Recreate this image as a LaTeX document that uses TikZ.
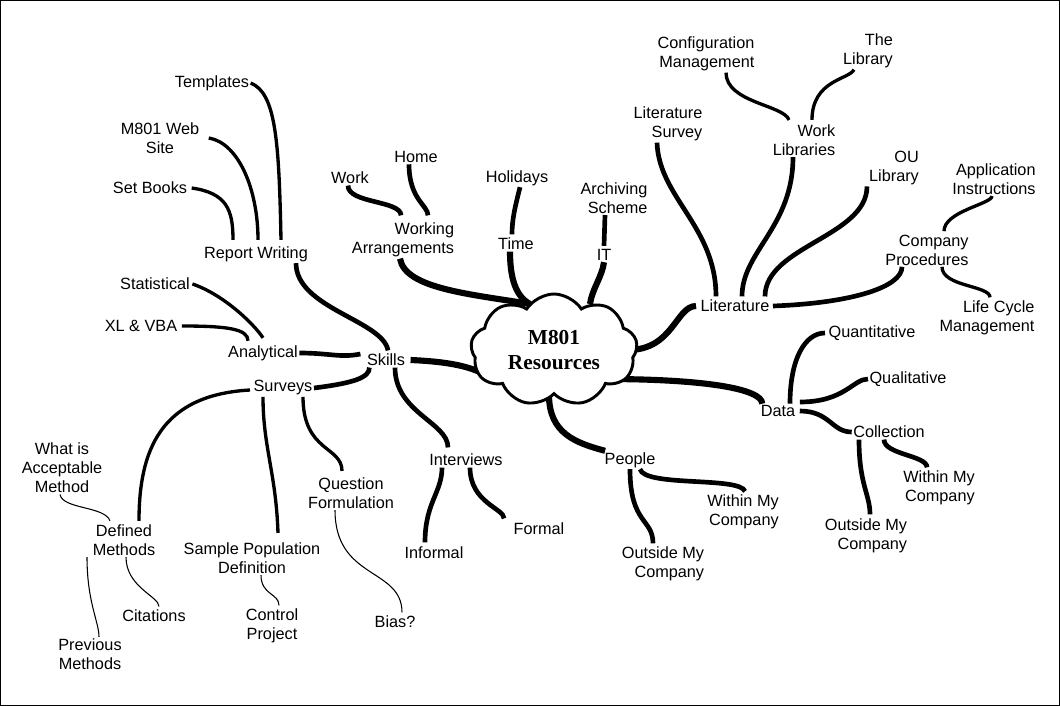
\documentclass[tikz,border=0pt]{standalone}
\usepackage{fontspec}
\setmainfont{Liberation Sans}
\newfontfamily\hubfont{Liberation Serif}
\usetikzlibrary{calc,shapes.symbols,backgrounds}

\tikzset{
  lbl/.style={inner sep=1pt, align=center, font=\fontsize{12.2}{14.2}\selectfont},
  rlbl/.style={lbl, align=right},
  hub/.style={cloud, cloud puffs=9, cloud puff arc=115, aspect=1.5, draw,
    line width=2.2pt, fill=white, minimum width=125pt, minimum height=84pt,
    inner sep=0pt, align=center, font=\hubfont\bfseries\fontsize{16}{18.5}\selectfont},
  trunk/.style={line width=4.6pt},
  branch/.style={line width=3.5pt},
  twig/.style={line width=2.5pt},
  hair/.style={line width=0.8pt},
}

\begin{document}
\begin{tikzpicture}[x=0.75pt,y=-0.75pt]
  \useasboundingbox (0,0) rectangle (1060,706);
  \draw[line width=0.75pt] (0.5,0.5) rectangle (1059.5,705.5);

  % centre
  \node[hub] (hub) at (554,350) {M801\\Resources};

  % skills side
  \node[lbl] (skills) at (386,360) {Skills};
  \node[lbl] (rw) at (256,254) {Report Writing};
  \node[lbl] (tmpl) at (212,83) {Templates};
  \node[lbl] (web) at (160,138) {M801 Web\\Site};
  \node[lbl] (books) at (150,188) {Set Books};
  \node[lbl] (anal) at (263,353) {Analytical};
  \node[lbl] (stat) at (155,284) {Statistical};
  \node[lbl] (xl) at (141,326) {XL \& VBA};
  \node[lbl] (surv) at (283,388) {Surveys};
  \node[lbl] (accept) at (62,468) {What is\\Acceptable\\Method};
  \node[lbl] (defm) at (124,540) {Defined\\Methods};
  \node[lbl] (prev) at (90,654) {Previous\\Methods};
  \node[lbl] (cite) at (154,616) {Citations};
  \node[lbl] (sample) at (252,558) {Sample Population\\Definition};
  \node[lbl] (ctrl) at (272,626) {Control\\Project};
  \node[lbl] (quest) at (351,493) {Question\\Formulation};
  \node[lbl] (bias) at (395,622) {Bias?};
  \node[lbl] (intv) at (466,460) {Interviews};
  \node[lbl] (infml) at (434,553) {Informal};
  \node[lbl] (fml) at (539,529) {Formal};

  % top
  \node[rlbl] (warr) at (403,240) {Working\\Arrangements};
  \node[lbl] (work) at (350,178) {Work};
  \node[lbl] (home) at (416,157) {Home};
  \node[lbl] (time) at (516,244) {Time};
  \node[lbl] (hol) at (517,178) {Holidays};
  \node[lbl] (it) at (604,255) {IT};
  \node[rlbl] (arch) at (614,198) {Archiving\\Scheme};

  % literature
  \node[lbl] (lit) at (735,306) {Literature};
  \node[rlbl] (lsurv) at (668,124) {Literature\\Survey};
  \node[rlbl] (wlib) at (804,140) {Work\\Libraries};
  \node[rlbl] (conf) at (706,54) {Configuration\\Management};
  \node[rlbl] (thelib) at (868,51) {The\\Library};
  \node[rlbl] (oulib) at (894,168) {OU\\Library};
  \node[rlbl] (proc) at (927,250) {Company\\Procedures};
  \node[rlbl] (app) at (994,179) {Application\\Instructions};
  \node[rlbl] (life) at (987,318) {Life Cycle\\Management};

  % data and people
  \node[lbl] (data) at (778,411) {Data};
  \node[lbl] (quant) at (872,333) {Quantitative};
  \node[lbl] (qual) at (908,379) {Qualitative};
  \node[lbl] (coll) at (889,432) {Collection};
  \node[rlbl] (din) at (939,488) {Within My\\Company};
  \node[rlbl] (dout) at (866,536) {Outside My\\Company};
  \node[lbl] (ppl) at (630,460) {People};
  \node[rlbl] (pin) at (743,512) {Within My\\Company};
  \node[rlbl] (pout) at (663,564) {Outside My\\Company};

  \begin{scope}[on background layer]
    % main branches
    \draw[trunk] ($(skills.east)+(4,0)$) .. controls +(45,2) and +(-15,-8) .. ($(hub)+(-66,26)$);
    \draw[trunk] ($(warr.south)+(-3,0)$) .. controls +(5,30) and +(-60,-10) .. ($(hub)+(-24,-46)$);
    \draw[trunk] ($(time.south)+(-6,0)$) .. controls +(0,25) and +(-15,-8) .. ($(hub)+(-24,-46)$);
    \draw[trunk] (it.south) .. controls +(-2,15) and +(2,-15) .. ($(hub)+(36,-46)$);
    \draw[trunk] ($(lit.west)+(-3,0)$) .. controls +(-20,0) and +(45,0) .. ($(hub)+(74,0)$);
    \draw[trunk] ($(hub)+(50,29)$) .. controls +(100,0) and +(0,-15) .. ($(data.north west)+(3,0)$);
    \draw[trunk] ($(hub)+(-5,45)$) .. controls +(0,38) and +(-30,-8) .. ($(ppl.north west)+(2,0)$);

    % skills
    \draw[branch] ($(rw.south)+(40,0)$) .. controls +(0,45) and +(-5,-30) .. ($(skills.north)+(2,-2)$);
    \draw[branch] (anal.east) .. controls +(30,0) and +(-20,4) .. ($(skills.west)+(-5,-6)$);
    \draw[branch] (surv.east) .. controls +(40,-5) and +(0,10) .. ($(skills.south west)+(4,0)$);
    \draw[branch] ($(skills.south)+(9,0)$) .. controls +(0,45) and +(0,-25) .. ($(intv.north)+(-18,-5)$);
    \draw[twig] (tmpl.east) .. controls +(25,10) and +(-2,-100) .. ($(rw.north)+(25,-5)$);
    \draw[twig] ($(web.east)+(8,0)$) .. controls +(30,5) and +(0,-50) .. ($(rw.north)+(2,-5)$);
    \draw[twig] ($(books.east)+(3,0)$) .. controls +(35,5) and +(0,-30) .. ($(rw.north)+(-23,-5)$);
    \draw[twig] ($(stat.east)+(1,0)$) .. controls +(30,10) and +(-10,-15) .. ($(anal.north)+(0,-6)$);
    \draw[twig] ($(xl.east)+(3,0)$) .. controls +(45,0) and +(0,-12) .. ($(anal.north)+(-15,-3)$);
    \draw[twig] ($(surv.west)+(-2,2)$) .. controls +(-90,5) and +(0,-70) .. ($(defm.north)+(15,-2)$);
    \draw[twig] ($(surv.south)+(-20,0)$) .. controls +(0,50) and +(-2,-60) .. ($(sample.north)+(26,-8)$);
    \draw[twig] ($(surv.south)+(20,0)$) .. controls +(0,55) and +(0,-25) .. ($(quest.north)+(-9,-5)$);
    \draw[hair] ($(accept.south)+(-2,0)$) .. controls +(3,15) and +(-5,-15) .. ($(defm.north)+(-14,-2)$);
    \draw[hair] ($(defm.south)+(-37,0)$) .. controls +(0,45) and +(0,-15) .. ($(prev.north)+(9,0)$);
    \draw[hair] ($(defm.south)+(2,0)$) .. controls +(0,30) and +(0,-10) .. ($(cite.north)+(5,-2)$);
    \draw[hair] ($(sample.south)+(9,0)$) .. controls +(0,20) and +(0,-12) .. ($(ctrl.north)+(7,-2)$);
    \draw[hair] ($(quest.south)+(-16,0)$) .. controls +(0,70) and +(0,-45) .. ($(bias.north)+(7,-2)$);
    \draw[branch] ($(intv.south)+(-24,0)$) .. controls +(0,25) and +(0,-40) .. ($(infml.north)+(-9,-3)$);
    \draw[branch] ($(intv.south)+(4,0)$) .. controls +(0,35) and +(0,-10) .. ($(fml.north west)+(-8,-3)$);

    % top
    \draw[branch] ($(work.south)+(-2,0)$) .. controls +(0,18) and +(0,-15) .. ($(warr.north)+(-2,-6)$);
    \draw[branch] ($(home.south)+(-7,0)$) .. controls +(0,35) and +(0,-10) .. ($(warr.north)+(25,-6)$);
    \draw[branch] ($(hol.south)+(3,0)$) .. controls +(-5,20) and +(0,-15) .. ($(time.north)+(-4,-2)$);
    \draw[branch] ($(arch.south)+(-9,0)$) -- ($(it.north)+(0,-2)$);

    % literature
    \draw[branch] ($(lsurv.south)+(-11,0)$) .. controls +(2,55) and +(0,-70) .. ($(lit.north)+(-19,-2)$);
    \draw[branch] ($(wlib.south)+(-11,0)$) .. controls +(0,70) and +(0,-45) .. ($(lit.north)+(7,-2)$);
    \draw[branch] ($(oulib.south)+(-27,0)$) .. controls +(0,50) and +(0,-50) .. ($(lit.north)+(30,-2)$);
    \draw[branch] ($(lit.east)+(2,0)$) .. controls +(80,-3) and +(0,20) .. ($(proc.south)+(-25,0)$);
    \draw[twig] ($(conf.south)+(20,0)$) .. controls +(0,30) and +(-5,-15) .. ($(wlib.north)+(-15,-3)$);
    \draw[twig] ($(wlib.north)+(8,-3)$) .. controls +(0,-40) and +(-5,10) .. ($(thelib.south)+(-14,0)$);
    \draw[twig] ($(proc.north)+(17,-2)$) .. controls +(0,-20) and +(0,8) .. ($(app.south)+(-2,0)$);
    \draw[twig] ($(proc.south)+(15,0)$) .. controls +(0,20) and +(0,-12) .. ($(life.north)+(3,-2)$);

    % data and people
    \draw[branch] ($(data.north)+(12,0)$) .. controls +(0,-45) and +(-20,0) .. ($(quant.west)+(-2,0)$);
    \draw[branch] ($(data.east)+(3,-9)$) .. controls +(45,0) and +(-15,0) .. (qual.west);
    \draw[branch] ($(data.east)+(3,0)$) .. controls +(30,0) and +(-20,0) .. (coll.west);
    \draw[branch] ($(coll.south)+(-30,0)$) .. controls +(0,45) and +(0,-20) .. ($(dout.north)+(4,-3)$);
    \draw[branch] ($(coll.south)+(-5,0)$) .. controls +(0,15) and +(0,-12) .. ($(din.north)+(-12,-2)$);
    \draw[branch] (ppl.south) .. controls +(0,55) and +(0,-25) .. ($(pout.north)+(-10,-2)$);
    \draw[branch] ($(ppl.south)+(10,0)$) .. controls +(5,18) and +(-5,-15) .. ($(pin.north)+(2,-2)$);
  \end{scope}
\end{tikzpicture}
\end{document}
